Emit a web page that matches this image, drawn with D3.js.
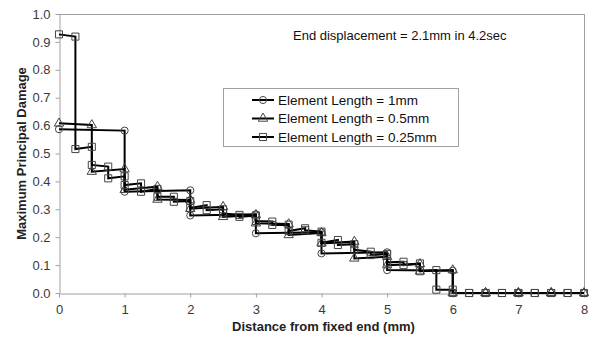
<!DOCTYPE html>
<html><head><meta charset="utf-8">
<script src="https://cdn.jsdelivr.net/npm/d3@7"></script>
<style>
html,body{margin:0;padding:0;background:#fff;}
svg text{font-family:"Liberation Sans",Arial,sans-serif;}
</style></head>
<body><svg id="chart" width="590" height="341"></svg>
<script>
// ---- data ----
const seriesNames = ["Element Length = 1mm", "Element Length = 0.5mm", "Element Length = 0.25mm"];
const elemLen = [1, 0.5, 0.25];
// value at start / end of each element
const start1mm = [0.587, 0.363, 0.278, 0.214, 0.142, 0.082, 0, 0];
const end1mm   = [0.582, 0.368, 0.282, 0.218, 0.146, 0.080, 0, 0];
const start05mm = [0.608, 0.435, 0.370, 0.335, 0.302, 0.273, 0.250, 0.208, 0.178, 0.124, 0.100, 0.078, 0, 0, 0, 0];
const end05mm   = [0.602, 0.444, 0.381, 0.333, 0.309, 0.280, 0.247, 0.215, 0.184, 0.130, 0.104, 0.082, 0, 0, 0, 0];
const start025mm = [0.927, 0.516, 0.459, 0.411, 0.387, 0.363, 0.345, 0.327, 0.305, 0.297, 0.285, 0.273,
                    0.258, 0.244, 0.222, 0.225, 0.180, 0.172, 0.155, 0.136, 0.110, 0.100, 0.078, 0.012,
                    0, 0, 0, 0, 0, 0, 0, 0];
const end025mm   = [0.919, 0.524, 0.453, 0.418, 0.393, 0.373, 0.345, 0.330, 0.315, 0.300, 0.280, 0.278,
                    0.256, 0.245, 0.232, 0.220, 0.190, 0.175, 0.148, 0.140, 0.112, 0.106, 0.082, 0.012,
                    0, 0, 0, 0, 0, 0, 0, 0];
const xTicks = [0, 1, 2, 3, 4, 5, 6, 7, 8];
const yTicks = [0, 0.1, 0.2, 0.3, 0.4, 0.5, 0.6, 0.7, 0.8, 0.9, 1.0];
const xTitle = "Distance from fixed end (mm)";
const yTitle = "Maximum Principal Damage";
const note = "End displacement = 2.1mm in 4.2sec";

// ---- layout ----
const svg = d3.select("#chart");
const L = 59, R = 584, T = 14, B = 293;
const x = d3.scaleLinear().domain([0, 8]).range([L, R]);
const y = d3.scaleLinear().domain([0, 1]).range([B, T]);
const axisColor = "#a0a0a0";
const labelColor = "#3a3a3a";

// plot border (top & right)
svg.append("line").attr("x1", L).attr("x2", R).attr("y1", T + 0.5).attr("y2", T + 0.5).attr("stroke", axisColor);
svg.append("line").attr("x1", R + 0.5).attr("x2", R + 0.5).attr("y1", T).attr("y2", B).attr("stroke", axisColor);

// axes
const gx = svg.append("g").attr("transform", `translate(0,${B + 0.5})`)
  .call(d3.axisBottom(x).tickValues(xTicks).tickFormat(d3.format("d")).tickSize(4).tickSizeOuter(0));
const gy = svg.append("g").attr("transform", `translate(${L + 0.5},0)`)
  .call(d3.axisLeft(y).tickValues(yTicks).tickFormat(d3.format(".1f")).tickSize(4).tickSizeOuter(0));
[gx, gy].forEach(g => {
  g.select(".domain").attr("stroke", axisColor);
  g.selectAll(".tick line").attr("stroke", axisColor);
  g.selectAll(".tick text").attr("fill", labelColor).style("font-size", "13px")
    .style("font-family", '"Liberation Sans",Arial,sans-serif');
});
gx.selectAll(".tick text").attr("dy", "1.05em");
gy.selectAll(".tick text").attr("x", -9);

// titles
svg.append("text").attr("x", (L + R) / 2 + 2).attr("y", 331).attr("text-anchor", "middle")
  .attr("font-weight", "bold").attr("font-size", "13px").attr("fill", "#222").text(xTitle);
svg.append("text").attr("transform", `translate(26,${(T + B) / 2}) rotate(-90)`).attr("text-anchor", "middle")
  .attr("font-weight", "bold").attr("font-size", "13px").attr("fill", "#222").text(yTitle);
svg.append("text").attr("x", 293).attr("y", 40).attr("font-size", "13px").attr("fill", "#111").text(note);

// build step points
function stepPoints(len, s, e) {
  const pts = [];
  s.forEach((v, i) => {
    pts.push([i * len, v]);
    pts.push([(i + 1) * len, e[i]]);
  });
  return pts;
}
const data = [
  stepPoints(elemLen[0], start1mm, end1mm),
  stepPoints(elemLen[1], start05mm, end05mm),
  stepPoints(elemLen[2], start025mm, end025mm)
];
const symbols = [d3.symbolCircle, d3.symbolTriangle, d3.symbolSquare];
const symSizes = [40, 38, 50];
const line = d3.line().x(d => x(d[0])).y(d => y(d[1]));

data.forEach((pts, k) => {
  svg.append("path").attr("d", line(pts)).attr("fill", "none").attr("stroke", "#000").attr("stroke-width", 2);
  svg.append("g").selectAll("path").data(pts).join("path")
    .attr("transform", d => `translate(${x(d[0])},${y(d[1])})`)
    .attr("d", d3.symbol().type(symbols[k]).size(symSizes[k]))
    .attr("fill", "none").attr("stroke", "#444").attr("stroke-width", 1);
});

// legend
const lg = svg.append("g");
lg.append("rect").attr("x", 223.5).attr("y", 88.5).attr("width", 235).attr("height", 58)
  .attr("fill", "#fff").attr("stroke", axisColor);
seriesNames.forEach((name, k) => {
  const cy = 100 + k * 18.5;
  lg.append("line").attr("x1", 252).attr("x2", 274).attr("y1", cy).attr("y2", cy).attr("stroke", "#000").attr("stroke-width", 2);
  lg.append("path").attr("transform", `translate(263,${cy})`)
    .attr("d", d3.symbol().type(symbols[k]).size(symSizes[k]))
    .attr("fill", "none").attr("stroke", "#444").attr("stroke-width", 1);
  lg.append("text").attr("x", 278).attr("y", cy + 4.5).attr("font-size", "13.5px").attr("fill", "#111").text(name);
});
</script></body></html>
